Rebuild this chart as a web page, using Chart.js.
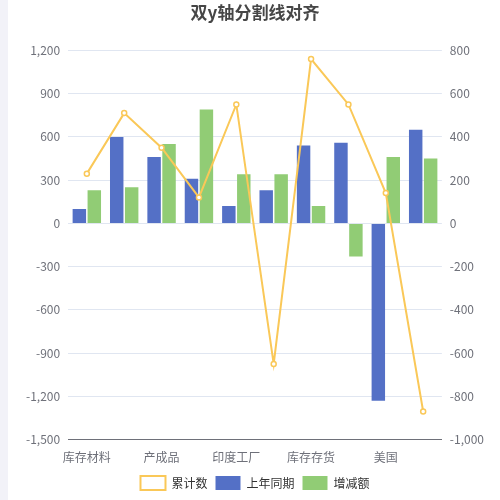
<!DOCTYPE html>
<html>
<head>
<meta charset="utf-8">
<script src="https://cdn.jsdelivr.net/npm/chart.js@4/dist/chart.umd.min.js"></script>
<style>
  body { margin: 0; background: #fff; font-family: "Noto Sans CJK SC", "Noto Sans", sans-serif; }
  #wrap { width: 492px; height: 500px; margin-left: 8px; position: relative; }
  #strip { position: absolute; left: 0; top: 0; width: 8px; height: 500px; background: #f2f2f8; }
</style>
</head>
<body>
<div id="strip"></div>
<div id="wrap"><canvas id="grafico" width="492" height="500"></canvas></div>
<script>
const categorias = ['库存材料', '原材料', '产成品', '半成品', '印度工厂', '德国工厂', '库存存货', '在途物资', '美国', '日本'];
const mostrarRotulo = [true, false, true, false, true, false, true, false, true, false];
const anoAnterior = [100, 600, 460, 310, 120, 230, 540, 560, -1230, 650];
const variacao = [230, 250, 550, 790, 340, 340, 120, -230, 460, 450];
const acumulado = [230, 510, 350, 120, 550, -650, 760, 550, 140, -870];
const ticksEsq = [-1500, 1200, 300];
const ticksDir = [-1000, 800, 200];

const fonte = { family: '"Noto Sans CJK SC", sans-serif', size: 12 };

new Chart(document.getElementById('grafico'), {
    data: {
        labels: categorias,
        datasets: [
            { type: 'bar', label: '上年同期', data: anoAnterior, yAxisID: 'y',
              backgroundColor: '#5470c6', categoryPercentage: 0.8, barPercentage: 0.9, order: 1 },
            { type: 'bar', label: '增减额', data: variacao, yAxisID: 'y',
              backgroundColor: '#91cc75', categoryPercentage: 0.8, barPercentage: 0.9, order: 1 },
            { type: 'line', label: '累计数', data: acumulado, yAxisID: 'y1',
              borderColor: '#fac858', backgroundColor: '#fff', borderWidth: 2,
              pointRadius: 2.5, pointBorderWidth: 1.5, tension: 0, order: 0 }
        ]
    },
    options: {
        responsive: false,
        animation: false,
        layout: { padding: { left: 10, right: 8, top: 0, bottom: 0 } },
        plugins: {
            title: { display: true, text: '双y轴分割线对齐', color: '#464646',
                     font: { family: fonte.family, size: 17, weight: 'bold' }, padding: { top: 2, bottom: 28 } },
            legend: { position: 'bottom',
                      labels: { color: '#333', font: fonte, boxWidth: 25, boxHeight: 14, padding: 8 } },
            tooltip: { enabled: false }
        },
        scales: {
            x: {
                grid: { display: false },
                border: { color: '#6e7079' },
                ticks: { color: '#6e7079', font: fonte, autoSkip: false, maxRotation: 0,
                         callback: (v, i) => mostrarRotulo[i] ? categorias[i] : '' }
            },
            y: {
                position: 'left', min: ticksEsq[0], max: ticksEsq[1],
                ticks: { stepSize: ticksEsq[2], color: '#6e7079', font: fonte, padding: 8 },
                grid: { color: '#e0e6f1', drawTicks: false }, border: { display: false }
            },
            y1: {
                position: 'right', min: ticksDir[0], max: ticksDir[1],
                ticks: { stepSize: ticksDir[2], color: '#6e7079', font: fonte, padding: 8 },
                grid: { display: false, drawTicks: false }, border: { display: false }
            }
        }
    }
});
</script>
</body>
</html>
